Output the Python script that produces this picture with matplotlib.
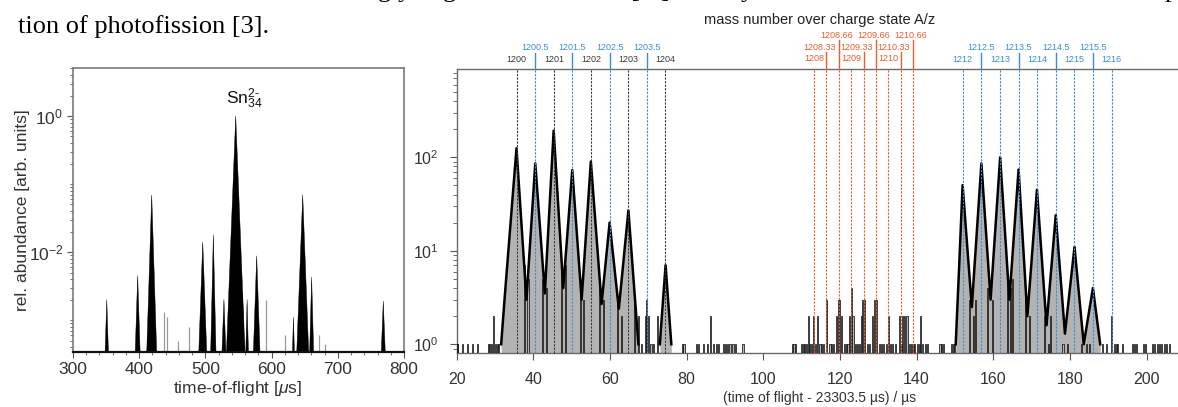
import matplotlib
matplotlib.use("Agg")
import matplotlib.pyplot as plt
from matplotlib.ticker import FixedLocator, LogLocator, MultipleLocator, NullFormatter
from matplotlib.transforms import blended_transform_factory, offset_copy

plt.rcParams['font.family'] = ['Liberation Sans', 'DejaVu Sans']
plt.rcParams['mathtext.fontset'] = 'custom'
plt.rcParams['mathtext.rm'] = 'Liberation Sans'
plt.rcParams['mathtext.it'] = 'Liberation Sans:italic'
plt.rcParams['mathtext.bf'] = 'Liberation Sans:bold'

# ---------------- left panel (overview TOF spectrum) ----------------
left_peak_tof = [351, 397.7, 413.8, 418.9, 496, 512, 528, 545.8, 556, 563, 577.5, 633, 647, 660.5, 768.7]
left_peak_height = [2.0e-3, 4.5e-3, 8e-4, 6.9e-2, 1.4e-2, 1.8e-2, 2.0e-3, 1.0, 2.5e-3, 2.0e-3,
                    8.8e-3, 1.1e-3, 6.9e-2, 4.3e-3, 1.9e-3]
left_peak_halfwidth = [2.5, 3.7, 1.5, 7.5, 6, 4, 3, 14, 3, 2, 5, 1.5, 9, 3, 3]
left_faint_tof = [437, 442, 458, 475, 592, 620, 672, 680]
left_faint_height = [1.3e-3, 1.1e-3, 5e-4, 8e-4, 2e-3, 6e-4, 6e-4, 4.5e-4]

# ---------------- right panel (zoomed histogram) ----------------
# mass-over-charge markers
mass_int_1 = [1200, 1201, 1202, 1203, 1204]
mass_half_1 = [1200.5, 1201.5, 1202.5, 1203.5]
mass_int_2 = [1208, 1209, 1210]
mass_third_2 = [1208.33, 1209.33, 1210.33]
mass_twothird_2 = [1208.66, 1209.66, 1210.66]
mass_int_3 = [1212, 1213, 1214, 1215, 1216]
mass_half_3 = [1212.5, 1213.5, 1214.5, 1215.5]
tof_at_1200 = 35.65      # µs, position of A/z = 1200
tof_per_unit = 9.70      # µs per unit of A/z

# peak envelopes (tof in µs after offset, counts)
cluster1_tof = [31.6, 32.6, 35.6, 38.2, 40.5, 43.0, 45.3, 47.8, 50.15, 52.6, 55.0, 57.8, 59.9, 62.3, 64.8, 67.4]
cluster1_counts = [1, 3.5, 125, 3, 86, 3.5, 193, 4, 73, 3, 90, 2.7, 20, 2.4, 27, 1]
cluster1b_tof = [73.0, 74.5, 76.0]
cluster1b_counts = [1, 7, 1]
cluster3_tof = [150.2, 151.1, 152.0, 154.4, 156.9, 159.3, 161.8, 164.2, 166.6, 168.9, 171.4,
                173.9, 176.3, 178.7, 181.2, 183.6, 186.0, 187.9]
cluster3_counts = [1, 6.8, 50.5, 2.5, 86, 3, 100, 3, 74, 2, 45, 1.6, 24, 1.3, 11, 1, 4, 1]

# single-bin events
event_tof = [20.1, 20.3, 21.6, 22.9, 24.2, 25.5, 28.2, 28.6, 29.1, 29.6, 30.1, 30.6, 31.0,
             37.6, 38.6, 42.5, 43.4, 47.3, 48.3, 52.3, 53.0, 57.3, 58.2, 62.0, 63.0, 66.5, 67.5,
             68.3, 69.2, 69.6, 70.1, 70.7, 71.3, 72.5,
             78.8, 79.3, 82.5, 83.2, 84.5, 85.4, 86.3, 87.1, 87.8, 88.4, 89.5, 90.1, 90.6, 91.3,
             92.1, 92.8, 94.7,
             107.6, 108.0, 108.5, 110.0, 110.4, 110.8, 111.3, 111.7, 112.0, 112.6, 113.2, 113.6,
             114.05, 114.8, 115.2, 115.6, 116.5, 117.4, 117.8, 118.2, 119.1, 119.5, 119.9, 120.4,
             121.3, 121.7, 122.1, 122.6, 123.0, 123.4, 124.1, 124.5, 125.0, 125.6, 126.0, 126.5,
             127.3, 127.8, 128.6, 129.1, 129.6, 130.2, 130.8, 131.4, 132.1, 132.6, 133.2, 133.7,
             134.5, 135.6, 136.0, 136.4, 136.9, 137.5, 138.2, 138.7, 139.2, 139.5, 140.3, 140.8,
             141.1, 141.6, 142.2, 142.8, 146.1, 146.6, 147.1, 149.1, 149.6, 150.0,
             153.8, 154.8, 155.3, 158.6, 159.8, 163.6, 164.4, 165.0, 168.3, 169.5, 173.4, 174.3,
             175.0, 178.2, 179.3, 183.0, 184.3, 185.2, 188.4, 189.5, 190.8, 191.7, 192.1, 192.5,
             193.8, 196.4, 196.8, 197.3, 199.1, 199.8, 201.5, 202.1, 202.8, 203.4, 204.0, 204.6,
             205.2, 205.9]
event_counts = [1, 1, 1, 1, 1, 1, 1, 1, 1, 2, 1, 1, 1,
                7, 5, 5, 4, 6, 7, 5, 3, 4, 3, 3, 2, 3, 2,
                1, 2, 3, 2, 1, 1, 2,
                1, 1, 1, 1, 1, 1, 2, 1, 1, 1, 1, 1, 1, 1,
                1, 1, 1,
                1, 1, 1, 1, 1, 1, 1, 2, 1, 1, 2, 1,
                2, 1, 1, 1, 3, 1, 1, 1, 2, 3, 3, 2,
                1, 1, 1, 2, 4, 2, 1, 1, 1, 2, 3, 3,
                1, 1, 2, 3, 3, 1, 1, 1, 1, 2, 1, 1,
                1, 2, 1, 2, 2, 2, 1, 1, 1, 1, 1, 1,
                2, 1, 1, 1, 1, 1, 1, 1, 1, 1,
                3, 2, 3, 4, 3, 5, 4, 5, 3, 2, 2, 1,
                2, 1, 1, 1, 1, 1, 1, 1, 2, 1, 1, 1,
                1, 1, 1, 1, 1, 1, 1, 1, 1, 1, 1, 1,
                1, 1]

# ---------------- figure ----------------
W, H = 1178, 407
fig = plt.figure(figsize=(W / 100, H / 100), dpi=100)

# page text around the figure
fig.text(18 / W, 1 - 33 / H, "tion of photofission [3].", family='Liberation Serif',
         fontsize=19, va='baseline', ha='left', color='black')
for xpx, s in [(378, "g"), (398, "y"), (443, "g"), (631, "["), (660, "]"), (741, "y"), (1165, "p")]:
    fig.text(xpx / W, 1 + 2.5 / H, s, family='Liberation Serif', fontsize=19,
             va='baseline', ha='left', color='black')

# ---- left axes ----
axL = fig.add_axes([73 / W, 1 - 352 / H, (404 - 73) / W, (352 - 68) / H])
axL.set_yscale('log')
axL.set_xlim(300, 800)
ybotL = 3.39e-4
axL.set_ylim(ybotL, 5.08)
for c, h, hw in zip(left_peak_tof, left_peak_height, left_peak_halfwidth):
    axL.fill([c - hw, c, c + hw], [ybotL, h, ybotL], color='black', lw=0.3)
axL.vlines(left_faint_tof, ybotL, left_faint_height, color='#9a9a9a', lw=0.9)
axL.yaxis.set_major_locator(FixedLocator([1e-2, 1e0]))
axL.yaxis.set_minor_locator(LogLocator(base=10, subs=(1.0, 2, 3, 4, 5, 6, 7, 8, 9), numticks=20))
axL.yaxis.set_minor_formatter(NullFormatter())
axL.xaxis.set_major_locator(MultipleLocator(100))
axL.xaxis.set_minor_locator(MultipleLocator(20))
for sp in axL.spines.values():
    sp.set_color('#7a7a7a')
    sp.set_linewidth(1.2)
axL.spines['bottom'].set_color('#111111')
axL.spines['bottom'].set_linewidth(1.6)
axL.tick_params(axis='both', which='major', labelsize=12.5, length=4, color='#555555',
                labelcolor='#333333', pad=3)
axL.tick_params(axis='both', which='minor', length=2.5, color='#555555')
fig.text(238 / W, 1 - 388 / H, r"time-of-flight [$\mu$s]", fontsize=12.5, color='#333333',
         ha='center', va='center')
fig.text(23 / W, 1 - 210 / H, "rel. abundance [arb. units]", fontsize=12.5, color='#333333',
         ha='center', va='center', rotation=90)
axL.annotate(r"Sn$_{34}^{2\text{-}}$", xy=(545.8, 1.0), xytext=(9, 17),
             textcoords='offset pixels', ha='center', va='center', fontsize=12.5,
             color='#111111')

# ---- right axes ----
axR = fig.add_axes([456.7 / W, 1 - 353 / H, (W - 456.7) / W, (353 - 69) / H])
axR.set_yscale('log')
axR.set_xlim(20, 208.2)
ybotR = 0.807
axR.set_ylim(ybotR, 880)

grey = '#b3b3b3'
for xs, ys in [(cluster1_tof, cluster1_counts), (cluster1b_tof, cluster1b_counts),
               (cluster3_tof, cluster3_counts)]:
    axR.fill_between(xs, ys, ybotR, color=grey, lw=0, zorder=2)
    axR.plot(xs, ys, color='black', lw=1.8, zorder=4)
axR.bar(event_tof, [c - ybotR for c in event_counts], bottom=ybotR, width=0.28,
        color=grey, edgecolor='black', lw=0.5, zorder=3)

def to_tof(m):
    return tof_at_1200 + tof_per_unit * (m - 1200)

black_c = '#3a3a3a'
blue_c = '#3a8fd3'
orange_c = '#e5602e'
trans = blended_transform_factory(axR.transData, axR.transAxes)
ax_h = 353 - 69

def ay(px_above):
    return 1 + px_above / ax_h

groups = [
    (mass_int_1, black_c, None, ay(10), 0, lambda m: f"{m:d}"),
    (mass_half_1, blue_c, ay(16), ay(21.5), 0, lambda m: f"{m:.1f}"),
    (mass_int_2, orange_c, None, ay(10.5), 0, lambda m: f"{m:d}"),
    (mass_third_2, orange_c, ay(17), ay(21.5), -5.0, lambda m: f"{m:.2f}"),
    (mass_twothird_2, orange_c, ay(29), ay(33), -1.5, lambda m: f"{m:.2f}"),
    (mass_int_3, blue_c, None, ay(10), 0, lambda m: f"{m:d}"),
    (mass_half_3, blue_c, ay(16), ay(21.5), 0, lambda m: f"{m:.1f}"),
]
for masses, col, stem_top, label_y, dx, fmt in groups:
    for m in masses:
        t = to_tof(m)
        axR.plot([t, t], [0, 1], transform=trans, color=col, lw=0.8,
                 ls=(0, (2.0, 1.2)), zorder=5, clip_on=False)
        if stem_top is not None:
            axR.plot([t, t], [1, stem_top], transform=trans, color=col, lw=1.0,
                     zorder=5, clip_on=False)
        tr = offset_copy(trans, fig=fig, x=dx, y=0, units='points')
        axR.text(t, label_y, fmt(m), transform=tr, ha='center', va='center',
                 fontsize=6.5, color=col, clip_on=False)

axR.yaxis.set_major_locator(FixedLocator([1e0, 1e1, 1e2]))
axR.yaxis.set_minor_locator(LogLocator(base=10, subs=(2, 3, 4, 5, 6, 7, 8, 9), numticks=20))
axR.yaxis.set_minor_formatter(NullFormatter())
axR.xaxis.set_major_locator(MultipleLocator(20))
for sp in axR.spines.values():
    sp.set_color('#6a6a6a')
    sp.set_linewidth(1.0)
axR.spines['right'].set_visible(False)
axR.tick_params(axis='both', which='major', labelsize=11.5, length=5, color='#555555',
                labelcolor='#333333')
axR.tick_params(axis='x', which='major', pad=9)
axR.tick_params(axis='y', which='major', pad=8)
axR.tick_params(axis='both', which='minor', length=3, color='#555555')
fig.text(820 / W, 1 - 398 / H, "(time of flight - 23303.5 µs) / µs", fontsize=10,
         color='#333333', ha='center', va='center')
fig.text(820 / W, 1 - 20 / H, "mass number over charge state A/z", ha='center', va='center',
         fontsize=10.5, color='#222222')

fig.savefig("out.png", dpi=100)
